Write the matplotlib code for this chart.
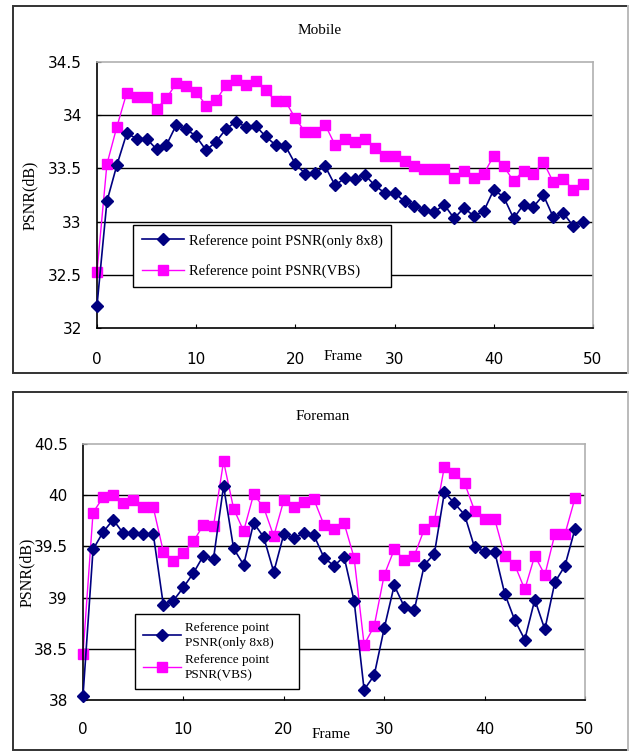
import matplotlib.pyplot as plt
from matplotlib.patches import Rectangle
from matplotlib.lines import Line2D

# frame numbers
frames = list(range(50))

# Mobile sequence
mobile_8x8 = [32.21, 33.19, 33.53, 33.83, 33.78, 33.78, 33.68, 33.72, 33.91, 33.87,
              33.80, 33.67, 33.75, 33.87, 33.94, 33.89, 33.90, 33.80, 33.72, 33.71,
              33.54, 33.45, 33.46, 33.52, 33.34, 33.41, 33.40, 33.44, 33.34, 33.27,
              33.27, 33.19, 33.15, 33.11, 33.09, 33.16, 33.03, 33.13, 33.05, 33.10,
              33.30, 33.23, 33.03, 33.16, 33.14, 33.25, 33.04, 33.08, 32.96, 33.00]
mobile_vbs = [32.53, 33.54, 33.89, 34.21, 34.17, 34.17, 34.06, 34.16, 34.30, 34.27,
              34.22, 34.09, 34.14, 34.28, 34.33, 34.28, 34.32, 34.24, 34.13, 34.13,
              33.97, 33.84, 33.84, 33.91, 33.72, 33.78, 33.75, 33.78, 33.69, 33.62,
              33.62, 33.57, 33.52, 33.49, 33.49, 33.49, 33.41, 33.48, 33.41, 33.45,
              33.62, 33.52, 33.38, 33.48, 33.45, 33.56, 33.37, 33.40, 33.30, 33.35]

# Foreman sequence
foreman_8x8 = [38.04, 39.47, 39.64, 39.76, 39.63, 39.63, 39.62, 39.62, 38.93, 38.97,
               39.10, 39.24, 39.41, 39.38, 40.09, 39.48, 39.32, 39.73, 39.59, 39.25,
               39.62, 39.58, 39.63, 39.61, 39.39, 39.31, 39.40, 38.97, 38.10, 38.24,
               38.70, 39.12, 38.91, 38.88, 39.32, 39.43, 40.03, 39.92, 39.81, 39.49,
               39.45, 39.45, 39.04, 38.78, 38.59, 38.98, 38.69, 39.15, 39.31, 39.67]
foreman_vbs = [38.45, 39.83, 39.98, 40.00, 39.92, 39.95, 39.88, 39.88, 39.45, 39.36,
               39.44, 39.55, 39.71, 39.70, 40.33, 39.87, 39.65, 40.01, 39.88, 39.60,
               39.95, 39.88, 39.93, 39.96, 39.71, 39.67, 39.73, 39.39, 38.54, 38.72,
               39.22, 39.47, 39.37, 39.41, 39.67, 39.75, 40.28, 40.22, 40.12, 39.85,
               39.77, 39.77, 39.41, 39.32, 39.08, 39.41, 39.22, 39.62, 39.62, 39.97]

mobile_yticks = [32, 32.5, 33, 33.5, 34, 34.5]
mobile_ylabels = ['32', '32.5', '33', '33.5', '34', '34.5']
foreman_yticks = [38, 38.5, 39, 39.5, 40, 40.5]
foreman_ylabels = ['38', '38.5', '39', '39.5', '40', '40.5']
xticks = [0, 10, 20, 30, 40, 50]

NAVY = '#000080'
MAGENTA = '#FF00FF'
SERIF = 'Liberation Serif'
SANS = 'DejaVu Sans'

W, H = 629, 752
fig = plt.figure(figsize=(W / 100, H / 100), dpi=100)


def px_rect(x0, y0, x1, y1):
    # pixel box (top-left origin) -> figure fraction rect
    return [x0 / W, 1 - y1 / H, (x1 - x0) / W, (y1 - y0) / H]


def panel(y0, y1):
    r = Rectangle((13 / W, 1 - y1 / H), 615 / W, (y1 - y0) / H, transform=fig.transFigure,
                  facecolor='none', edgecolor='#333333', lw=1.4, zorder=0)
    fig.patches.append(r)
    fig.add_artist(Line2D([628 / W, 628 / W], [1 - y1 / H, 1 - y0 / H], transform=fig.transFigure,
                          color='#c0c0c0', lw=1.4))


def draw_chart(box, y_a, y_b, yticks, ylabels, title, title_xy, frame_xy, ylab_xy,
               leg_box, leg_labels, leg_size, sq_size, lab_space, xpad):
    ax = fig.add_axes(px_rect(*box))
    ax.set_zorder(2)
    ax.plot(frames, y_a, color=NAVY, lw=1.2, marker='D', ms=5.8, mec=NAVY, mfc=NAVY,
            label=leg_labels[0], zorder=3, clip_on=False)
    ax.plot(frames, y_b, color=MAGENTA, lw=1.0, marker='s', ms=sq_size, mec=MAGENTA, mfc=MAGENTA,
            label=leg_labels[1], zorder=2, clip_on=False)
    ax.set_xlim(0, 50)
    ax.set_ylim(yticks[0], yticks[-1])
    ax.set_xticks(xticks)
    ax.set_xticklabels([str(t) for t in xticks], fontfamily=SANS, fontsize=11)
    ax.set_yticks(yticks)
    ax.set_yticklabels(ylabels, fontfamily=SANS, fontsize=11)
    ax.tick_params(axis='x', direction='in', length=3, pad=xpad, color='black')
    ax.tick_params(axis='y', direction='in', length=3, pad=11, color='black')
    for t in yticks[1:-1]:
        ax.axhline(t, color='black', lw=1.0, zorder=1)
    ax.spines['top'].set_color('#b0b0b0')
    ax.spines['right'].set_color('#b0b0b0')
    ax.spines['left'].set_color('black')
    ax.spines['bottom'].set_color('black')
    for s in ax.spines.values():
        s.set_linewidth(1.2)

    fig.text(title_xy[0] / W, 1 - title_xy[1] / H, title, ha='center', va='center',
             fontfamily=SERIF, fontsize=11)
    fig.text(frame_xy[0] / W, 1 - frame_xy[1] / H, 'Frame', ha='center', va='center',
             fontfamily=SERIF, fontsize=11)
    fig.text(ylab_xy[0] / W, 1 - ylab_xy[1] / H, 'PSNR(dB)', ha='center', va='center',
             rotation=90, fontfamily=SERIF, fontsize=11.5)

    leg = ax.legend(loc='center', bbox_to_anchor=px_rect(*leg_box), bbox_transform=fig.transFigure,
                    mode='expand', fancybox=False, framealpha=1, edgecolor='black',
                    prop={'family': SERIF, 'size': leg_size}, handlelength=2.9,
                    borderpad=0.6, labelspacing=lab_space, handletextpad=0.3)
    leg.get_frame().set_linewidth(1.0)
    for txt in leg.get_texts():
        txt.set_linespacing(1.3)
    return ax


panel(6, 373)
panel(392, 750)

draw_chart((97, 62, 593, 328), mobile_8x8, mobile_vbs, mobile_yticks, mobile_ylabels,
           'Mobile', (320, 30), (343, 357), (30, 195), (126, 219, 398, 293),
           ['Reference point PSNR(only 8x8)', 'Reference point PSNR(VBS)'], 10.5, 7, 1.15, 17)

draw_chart((83, 444, 585, 700), foreman_8x8, foreman_vbs, foreman_yticks, foreman_ylabels,
           'Foreman', (323, 416), (331, 735), (27, 572), (128, 617, 306, 686),
           ['Reference point\nPSNR(only 8x8)', 'Reference point\nPSNR(VBS)'], 9.5, 6.5, 0.4, 16)

fig.savefig('out.png', dpi=100)
